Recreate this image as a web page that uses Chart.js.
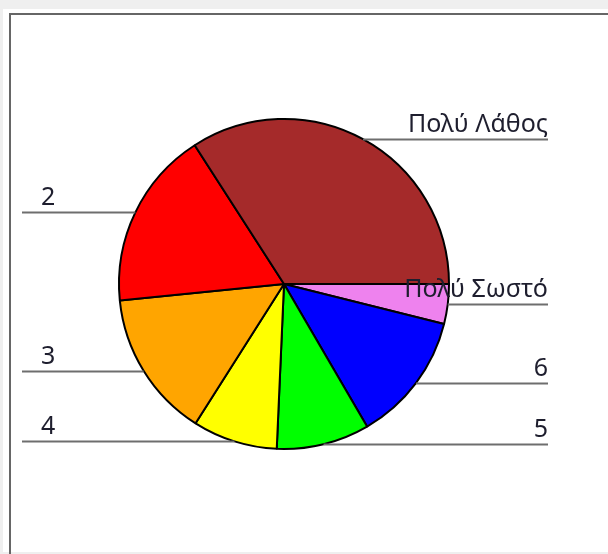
<!DOCTYPE html>
<html>
<head>
<meta charset="utf-8">
<script src="https://cdn.jsdelivr.net/npm/chart.js@4/dist/chart.umd.min.js"></script>
<style>
  html, body { margin: 0; padding: 0; background: #f0f0f0; }
  #wrap { position: absolute; left: 0; top: 0; width: 608px; height: 554px; }
</style>
</head>
<body>
<div id="wrap"><canvas id="pie" width="608" height="554"></canvas></div>
<script>
'use strict';

// answers, from "very wrong" to "very right"
const categories = ['Πολύ Λάθος', '2', '3', '4', '5', '6', 'Πολύ Σωστό'];
const shares     = [34.1, 17.5, 14.4, 8.3, 9.1, 12.7, 3.9];
const colors     = ['#a52a2a', '#ff0000', '#ffa500', '#ffff00', '#00ff00', '#0000ff', '#ee82ee'];

// the original runs counter-clockwise from 3 o'clock, Chart.js runs clockwise
const rev = a => a.slice().reverse();

const frame = {
  id: 'frame',
  beforeDraw(chart) {
    const ctx = chart.ctx;
    ctx.save();
    ctx.fillStyle = '#efefef';
    ctx.fillRect(0, 0, 608, 554);
    ctx.fillStyle = '#ffffff';
    ctx.fillRect(3, 9, 605, 543);
    ctx.strokeStyle = '#666666';
    ctx.lineWidth = 2;
    ctx.beginPath();
    ctx.moveTo(10, 554);
    ctx.lineTo(10, 14);
    ctx.lineTo(608, 14);
    ctx.stroke();
    ctx.restore();
  }
};

const leaders = {
  id: 'leaders',
  afterDraw(chart) {
    const ctx = chart.ctx;
    const meta = chart.getDatasetMeta(0);
    const labels = chart.data.labels;
    ctx.save();
    ctx.font = '25px "Noto Sans", sans-serif';
    meta.data.forEach((arc, i) => {
      const p = arc.getProps(['x', 'y', 'startAngle', 'endAngle', 'outerRadius'], true);
      const mid = (p.startAngle + p.endAngle) / 2;
      const ax = p.x + p.outerRadius * Math.cos(mid);
      const ay = Math.round(p.y + p.outerRadius * Math.sin(mid)) + 0.5;
      const left = Math.cos(mid) < 0;
      const end = left ? 22 : 548;
      ctx.strokeStyle = '#6e6e6e';
      ctx.lineWidth = 2;
      ctx.beginPath();
      ctx.moveTo(ax, ay);
      ctx.lineTo(end, ay);
      ctx.stroke();
      ctx.fillStyle = '#1e1e2e';
      ctx.textBaseline = 'alphabetic';
      ctx.textAlign = left ? 'left' : 'right';
      ctx.fillText(labels[i], left ? 41 : 548, ay - 8);
    });
    ctx.restore();
  }
};

new Chart(document.getElementById('pie'), {
  type: 'pie',
  data: {
    labels: rev(categories),
    datasets: [{
      data: rev(shares),
      backgroundColor: rev(colors),
      borderColor: '#000000',
      borderWidth: 2,
    }]
  },
  options: {
    responsive: false,
    animation: false,
    rotation: 90,
    layout: { padding: { left: 118, top: 118, right: 158, bottom: 104 } },
    plugins: { legend: { display: false }, tooltip: { enabled: false } }
  },
  plugins: [frame, leaders]
});
</script>
</body>
</html>
